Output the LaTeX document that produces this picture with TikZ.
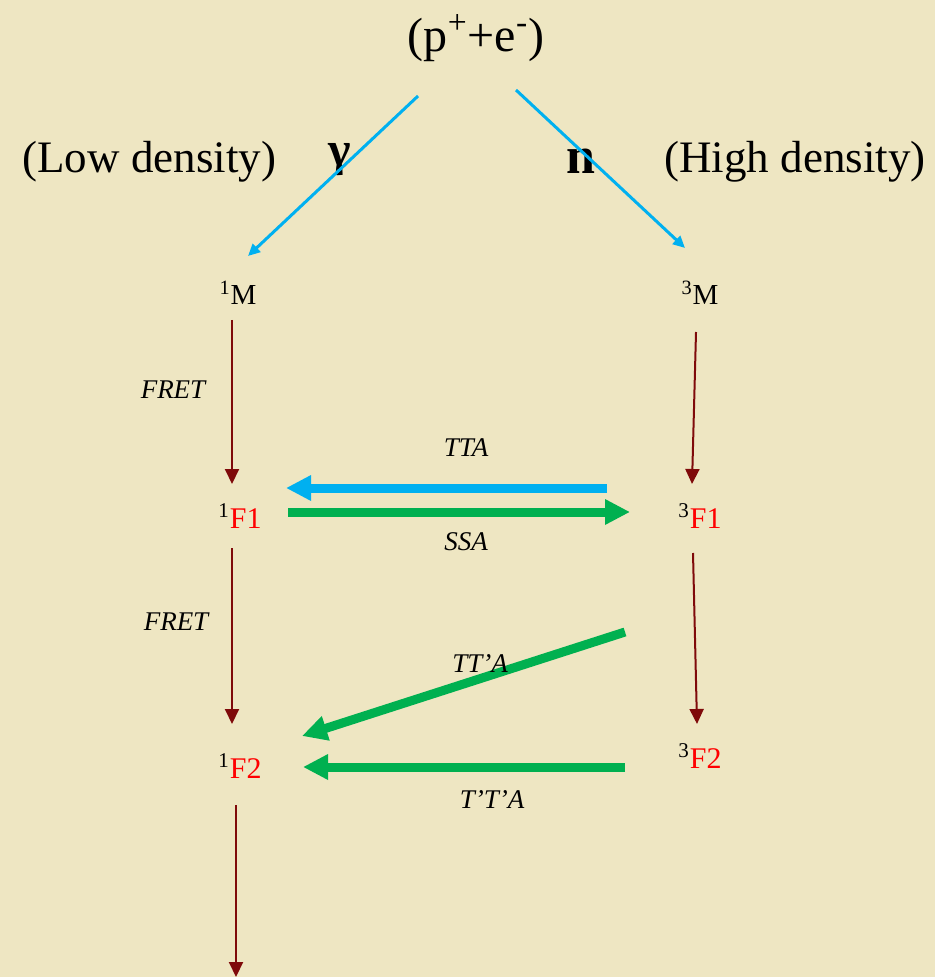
\documentclass[tikz,border=0pt]{standalone}
\usepackage{fontspec}
\setmainfont{Liberation Serif}
\usetikzlibrary{arrows.meta}
\definecolor{bgc}{HTML}{EEE6C2}
\definecolor{skyb}{HTML}{00B0F0}
\definecolor{grn}{HTML}{00B050}
\definecolor{maroon}{HTML}{7F0A0A}
\tikzset{
  big/.style={font=\fontsize{22.5}{26}\selectfont, inner sep=0pt},
  state/.style={font=\fontsize{14.5}{17}\selectfont, inner sep=0pt},
  fstate/.style={font=\fontsize{15}{18}\selectfont, inner sep=0pt},
  proc/.style={font=\fontsize{13.5}{16}\selectfont\itshape, inner sep=0pt},
  thin/.style={maroon, line width=1pt, -{Triangle[length=7.5pt,width=7pt]}},
  photon/.style={skyb, line width=1.5pt, -{Triangle[length=6pt,width=5.5pt]}},
  thick/.style={line width=4.5pt, -{Triangle[length=12.5pt,width=12pt]}},
}
\begin{document}
\begin{tikzpicture}[x=0.5pt,y=-0.5pt]
\fill[bgc] (0,0) rectangle (935,977);
\useasboundingbox (0,0) rectangle (935,977);
% texts
\node[big, font=\fontsize{24}{28}\selectfont] (pe) at (476,38) {(p\textsuperscript{+}+e\textsuperscript{-})};
\node[big, anchor=west] (low) at (22,162) {(Low density)};
\node[big, anchor=east] (high) at (926,162) {(High density)};
\node[inner sep=0pt, font=\fontsize{24}{28}\selectfont\bfseries] (gam) at (340,160) {γ};
\node[inner sep=0pt, font=\fontsize{26}{30}\selectfont\bfseries] (nn) at (581,161) {n};
\node[state] (m1) at (238,293) {\textsuperscript{1}M};
\node[state] (m3) at (700,293) {\textsuperscript{3}M};
\node[fstate] (f11) at (240,516) {\textsuperscript{1}\textcolor{red}{F1}};
\node[fstate] (f31) at (700,516) {\textsuperscript{3}\textcolor{red}{F1}};
\node[fstate] (f12) at (240,766) {\textsuperscript{1}\textcolor{red}{F2}};
\node[fstate] (f32) at (700,756) {\textsuperscript{3}\textcolor{red}{F2}};
\node[proc] (fret1) at (173,390) {FRET};
\node[proc] (fret2) at (176,622) {FRET};
\node[proc] (tta) at (466,448) {TTA};
\node[proc] (ssa) at (466,542) {SSA};
\node[proc] (tpttpa) at (492,800) {T’T’A};
% coordinates
\coordinate (b1s) at (418,96);  \coordinate (b1e) at (248,256);
\coordinate (b2s) at (516,90);  \coordinate (b2e) at (685,248);
\coordinate (l1s) at (232,320); \coordinate (l1e) at (232,484);
\coordinate (r1s) at (696,332); \coordinate (r1e) at (692,484);
\coordinate (l2s) at (232,548); \coordinate (l2e) at (232,724);
\coordinate (r2s) at (693,553); \coordinate (r2e) at (697,724);
\coordinate (l3s) at (236,805); \coordinate (l3e) at (236,977);
\coordinate (ttas) at (607,488); \coordinate (ttae) at (286,488);
\coordinate (ssas) at (288,512); \coordinate (ssae) at (630,512);
\coordinate (tpas) at (625,632); \coordinate (tpae) at (302,736);
\coordinate (tptas) at (625,767); \coordinate (tptae) at (303,767);
% connectors
\draw[photon] (b1s) -- (b1e);
\draw[photon] (b2s) -- (b2e);
\draw[thin] (l1s) -- (l1e);
\draw[thin] (r1s) -- (r1e);
\draw[thin] (l2s) -- (l2e);
\draw[thin] (r2s) -- (r2e);
\draw[thin] (l3s) -- (l3e);
\draw[thick, skyb] (ttas) -- (ttae);
\draw[thick, grn] (ssas) -- (ssae);
\draw[thick, grn] (tpas) -- (tpae);
\draw[thick, grn] (tptas) -- (tptae);
\node[proc] (ttpa) at (480,664) {TT’A};
\end{tikzpicture}
\end{document}
